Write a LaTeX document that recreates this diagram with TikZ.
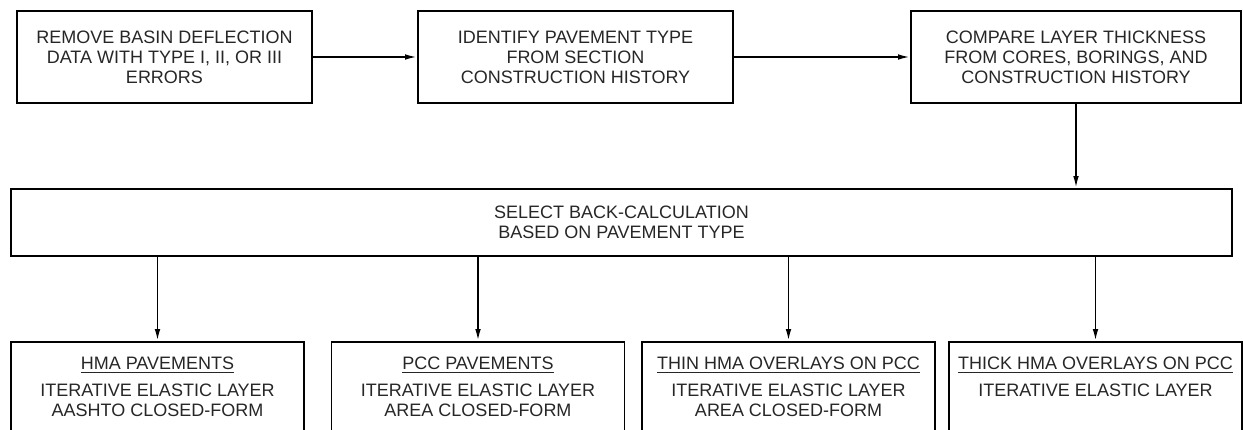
\documentclass[tikz,border=0pt]{standalone}
\usepackage{fontspec}
\setsansfont{Liberation Sans}
\usetikzlibrary{arrows.meta}
\tikzset{
    >={Latex[width=2.8pt,length=6pt]},
    base/.style =   {
                        rectangle, draw=black, line width=0.9pt,
                        inner sep=0pt, text centered,
                        font={\sffamily\fontsize{9}{10}\selectfont}, text=black!85
                    },
    step_box/.style = {base, minimum height=46pt},
    select_box/.style = {base, minimum width=610.5pt, minimum height=33.5pt},
    method_box/.style = {base, anchor=north, minimum width=146.5pt, text height=37.25pt, text depth=30pt}
}
\begin{document}
\begin{tikzpicture}[x=0.5pt, y=-0.5pt, align=center, line width=0.9pt]
    \useasboundingbox (0,0) rectangle (1243,429);

    \node (remove_errors)   [step_box, minimum width=147.5pt] at (164.5,57)  {REMOVE BASIN DEFLECTION\\DATA WITH TYPE I, II, OR III\\ERRORS};
    \node (identify_type)   [step_box, minimum width=157.5pt] at (575.5,57)  {IDENTIFY PAVEMENT TYPE\\FROM SECTION\\CONSTRUCTION HISTORY};
    \node (compare_layers)  [step_box, minimum width=165pt]   at (1076,57)   {COMPARE LAYER THICKNESS\\FROM CORES, BORINGS, AND\\CONSTRUCTION HISTORY};

    \node (select_method)   [select_box] at (621.5,222.5) {SELECT BACK-CALCULATION\\BASED ON PAVEMENT TYPE};

    \node (hma_pav)         [method_box] at (157.5,341)  {\underline{HMA PAVEMENTS}\\[3.5pt]ITERATIVE ELASTIC LAYER\\AASHTO CLOSED-FORM};
    \node (pcc_pav)         [method_box] at (478,341)    {\underline{PCC PAVEMENTS}\\[3.5pt]ITERATIVE ELASTIC LAYER\\AREA CLOSED-FORM};
    \node (thin_overlay)    [method_box] at (788.5,341)  {\underline{THIN HMA OVERLAYS ON PCC}\\[3.5pt]ITERATIVE ELASTIC LAYER\\AREA CLOSED-FORM};
    \node (thick_overlay)   [method_box] at (1095.5,341) {\underline{THICK HMA OVERLAYS ON PCC}\\[3.5pt]ITERATIVE ELASTIC LAYER\\\mbox{}};

    \draw[->]   (remove_errors) -- (identify_type);
    \draw[->]   (identify_type) -- (compare_layers);
    \draw[->]   (compare_layers.south) -- (compare_layers.south |- select_method.north);
    \draw[->]   (select_method.south -| hma_pav.north) -- (hma_pav.north);
    \draw[->]   (select_method.south -| pcc_pav.north) -- (pcc_pav.north);
    \draw[->]   (select_method.south -| thin_overlay.north) -- (thin_overlay.north);
    \draw[->]   (select_method.south -| thick_overlay.north) -- (thick_overlay.north);
\end{tikzpicture}
\end{document}
